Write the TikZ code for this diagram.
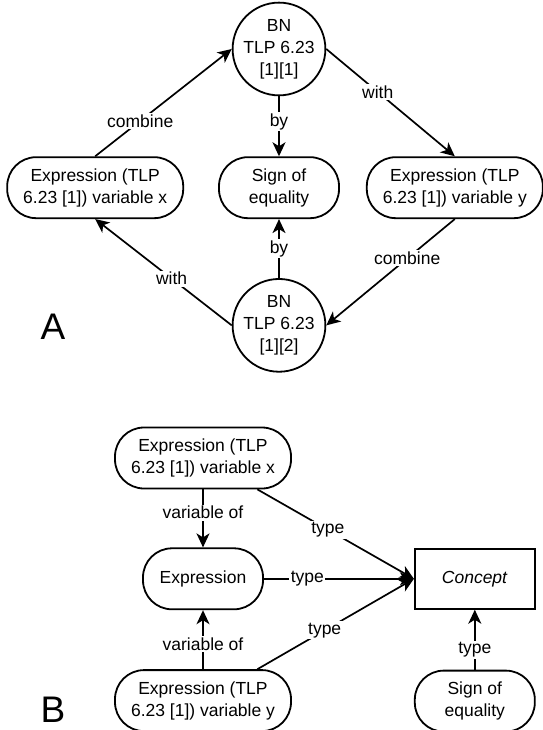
\documentclass[tikz,border=0pt]{standalone}
\usepackage{fontspec}
\setmainfont{Liberation Sans}
\usetikzlibrary{arrows.meta, positioning}

\begin{document}
\begin{tikzpicture}[
        x=1pt, y=-1pt,
        every node/.style={font=\fontsize{17.5}{22}\selectfont},
        % rounded boxes, circles and the concept box
        pill/.style={rectangle, draw, line width=1.8pt, rounded corners=29pt, minimum width=176pt, minimum height=61pt, align=center, inner sep=0pt},
        smallpill/.style={pill, minimum width=120pt},
        bnode/.style={circle, draw, line width=1.8pt, minimum size=92pt, inner sep=0pt, align=center},
        conceptbox/.style={rectangle, draw, line width=1.8pt, minimum width=120pt, minimum height=60pt},
        arrow/.style={line width=1.7pt, -{Stealth[length=14pt, width=13pt, inset=4pt]}},
        lbl/.style={fill=white, inner sep=1.5pt},
        panel/.style={font=\fontsize{37}{40}\selectfont, inner sep=0pt}
    ]
    \useasboundingbox (0,0) rectangle (542,730);

    % Panel A nodes
    \node[bnode] (bn1) at (279,49) {BN\\TLP 6.23\\{[1][1]}};
    \node[smallpill, below=60pt of bn1] (sign1) {Sign of\\equality};
    \node[pill, left=34pt of sign1] (exprx) {Expression (TLP\\6.23 [1]) variable x};
    \node[pill, right=26pt of sign1] (expry) {Expression (TLP\\6.23 [1]) variable y};
    \node[bnode, below=59pt of sign1] (bn2) {BN\\TLP 6.23\\{[1][2]}};
    \node[panel] (lblA) at (53,327) {A};

    % Panel A arrows
    \draw[arrow] (exprx.north) -- node[lbl, pos=0.33] {combine} (bn1.west);
    \draw[arrow] (bn1.east) -- node[lbl, pos=0.4] {with} (expry.north);
    \draw[arrow] (bn1.south) -- node[lbl, pos=0.42] {by} (sign1.north);
    \draw[arrow] (bn2.north) -- node[lbl, pos=0.5] {by} (sign1.south);
    \draw[arrow] (expry.south) -- node[lbl, pos=0.37] {combine} (bn2.east);
    \draw[arrow] (bn2.west) -- node[lbl, pos=0.44] {with} (exprx.south);

    % Panel B nodes
    \node[pill] (varx) at (203,458) {Expression (TLP\\6.23 [1]) variable x};
    \node[smallpill, below=58pt of varx] (expr) {Expression};
    \node[pill, below=59pt of expr] (vary) {Expression (TLP\\6.23 [1]) variable y};
    \node[conceptbox, right=150pt of expr] (concept) {\textit{Concept}};
    \node[smallpill, below=60pt of concept] (sign2) {Sign of\\equality};
    \node[panel] (lblB) at (53,710) {B};

    % Panel B arrows
    \draw[arrow] (varx.south) -- node[lbl, pos=0.4] {variable of} (expr.north);
    \draw[arrow] (vary.north) -- node[lbl, pos=0.43] {variable of} (expr.south);
    \draw[arrow] (varx.-30) -- node[lbl, pos=0.45] {type} (concept.west);
    \draw[arrow] (expr.east) -- node[lbl, pos=0.29] {type} (concept.west);
    \draw[arrow] (vary.30) -- node[lbl, pos=0.43] {type} (concept.west);
    \draw[arrow] (sign2.north) -- node[lbl, pos=0.33] {type} (concept.south);

\end{tikzpicture}
\end{document}
